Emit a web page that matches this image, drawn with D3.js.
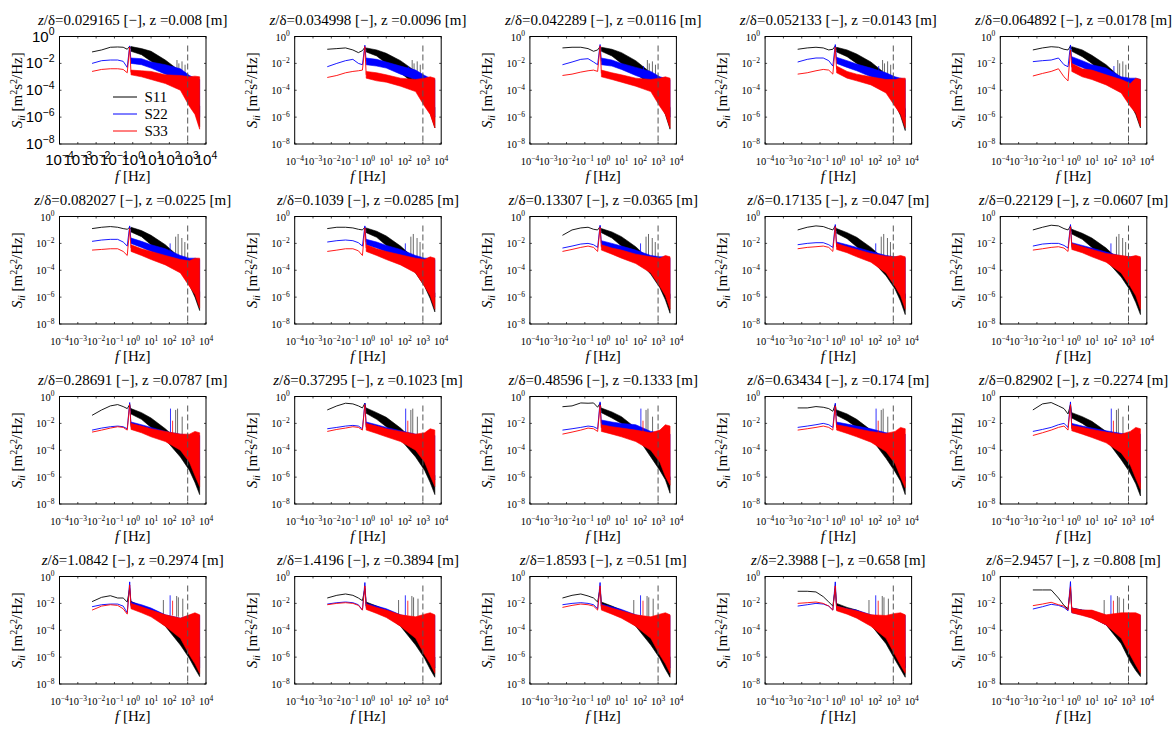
<!DOCTYPE html>
<html><head><meta charset="utf-8">
<script src="https://cdn.jsdelivr.net/npm/d3@7"></script>
<style>body{margin:0;background:#fff}svg{display:block}</style>
</head><body><svg id="c" width="1175" height="748"></svg>
<script>
// ---------- data ----------
const zDelta = ["0.029165","0.034998","0.042289","0.052133","0.064892",
  "0.082027","0.1039","0.13307","0.17135","0.22129",
  "0.28691","0.37295","0.48596","0.63434","0.82902",
  "1.0842","1.4196","1.8593","2.3988","2.9457"];
const zVal = ["0.008","0.0096","0.0116","0.0143","0.0178",
  "0.0225","0.0285","0.0365","0.047","0.0607",
  "0.0787","0.1023","0.1333","0.174","0.2274",
  "0.2974","0.3894","0.51","0.658","0.808"];
const seriesNames = ["S11","S22","S33"];
const seriesColors = ["#000000","#0000ff","#ff0000"];
const xTickExps = [-4,-3,-2,-1,0,1,2,3,4];
const yTickExps = [0,-2,-4,-6,-8];
const dashedF = 1000;
// frequency grids [Hz]
const lowF = [0.006,0.02,0.06,0.15,0.3,0.5];
const spikeF = 0.68;
const bandF = [0.8,3,10,60,400,1250,2500,4500];

// values are log10 of S_ii [m^2 s^-2 / Hz]
const s11Low = [
 [-1.15,-1.0,-0.8,-0.78,-0.8,-0.95],[-0.95,-0.9,-0.85,-1.0,-1.2,-1.05],[-0.85,-0.8,-0.8,-0.9,-1.1,-1.0],[-0.95,-0.85,-0.8,-0.85,-1.0,-0.95],[-1.0,-0.85,-0.76,-0.8,-0.95,-1.0],
 [-0.9,-0.8,-0.75,-0.8,-0.9,-0.95],[-0.9,-0.8,-0.8,-0.85,-0.95,-1.0],[-1.4,-1.0,-0.85,-0.8,-0.95,-1.0],[-1.0,-0.8,-0.7,-0.75,-0.9,-1.0],[-1.0,-0.8,-0.65,-0.7,-0.9,-1.0],
 [-1.4,-1.0,-0.7,-0.6,-0.75,-0.9],[-1.0,-0.7,-0.5,-0.55,-0.7,-0.85],[-0.76,-0.7,-0.48,-0.5,-0.48,-0.8],[-0.85,-0.85,-0.75,-0.8,-0.9,-1.1],[-1.0,-0.55,-0.45,-0.7,-0.9,-1.3],
 [-1.87,-1.55,-1.43,-1.6,-1.6,-1.9],[-1.6,-1.4,-1.3,-1.4,-1.6,-1.8],[-1.6,-1.4,-1.3,-1.45,-1.6,-1.9],[-1.1,-1.1,-1.15,-1.5,-1.9,-2.2],[-1.0,-1.0,-1.0,-1.6,-2.15,-2.4]];
const s11Spike = [-0.72,-0.8,-0.75,-0.7,-0.7, -0.8,-0.8,-0.75,-0.7,-0.7, -0.6,-0.5,-0.5,-0.6,-0.6, -0.9,-0.9,-0.9,-0.9,-0.9];
const s11Top = [
 [-0.75,-0.9,-1.1,-1.75,-2.6,-3.4,-4.3,-5.2],[-0.85,-1.0,-1.25,-1.8,-2.6,-3.5,-4.4,-5.3],[-0.8,-0.95,-1.2,-1.8,-2.7,-3.5,-4.4,-5.3],[-0.8,-1.0,-1.3,-1.9,-2.8,-3.6,-4.5,-5.4],[-0.76,-1.0,-1.4,-2.1,-3.1,-3.9,-4.7,-5.5],
 [-0.8,-1.05,-1.4,-2.1,-3.1,-4.0,-4.8,-5.6],[-0.85,-1.1,-1.45,-2.2,-3.2,-4.1,-4.9,-5.7],[-0.9,-1.15,-1.5,-2.25,-3.3,-4.2,-5.0,-5.8],[-0.9,-1.2,-1.55,-2.3,-3.3,-4.2,-5.0,-5.8],[-0.95,-1.25,-1.6,-2.35,-3.4,-4.3,-5.1,-5.9],
 [-0.9,-1.2,-1.6,-2.4,-3.4,-4.3,-5.1,-5.9],[-0.85,-1.2,-1.55,-2.35,-3.4,-4.3,-5.1,-5.9],[-0.86,-1.15,-1.5,-2.35,-3.5,-4.5,-5.3,-6.0],[-1.0,-1.3,-1.7,-2.5,-3.6,-4.5,-5.3,-6.0],[-1.2,-1.5,-1.85,-2.6,-3.7,-4.6,-5.4,-6.1],
 [-1.85,-2.2,-2.5,-3.1,-3.9,-4.7,-5.4,-6.0],[-1.9,-2.2,-2.5,-3.1,-3.9,-4.7,-5.4,-6.0],[-1.9,-2.2,-2.5,-3.1,-3.9,-4.7,-5.4,-6.0],[-2.0,-2.3,-2.5,-3.0,-3.9,-4.7,-5.4,-6.0],[-2.35,-2.5,-2.6,-3.0,-3.9,-4.7,-5.4,-6.0]];
const s11Bot = [
 [-1.1,-1.35,-1.85,-2.6,-3.6,-4.7,-5.6,-6.7],[-1.15,-1.45,-2.0,-2.7,-3.6,-4.8,-5.7,-6.8],[-1.1,-1.45,-2.0,-2.7,-3.7,-4.9,-5.8,-6.9],[-1.15,-1.5,-2.0,-2.8,-3.8,-5.0,-5.9,-7.0],[-1.1,-1.5,-2.0,-3.1,-4.0,-5.0,-5.8,-6.8],
 [-1.15,-1.5,-2.1,-3.0,-4.1,-5.1,-6.0,-7.0],[-1.2,-1.55,-2.15,-3.1,-4.2,-5.2,-6.1,-7.1],[-1.2,-1.6,-2.2,-3.1,-4.3,-5.3,-6.2,-7.2],[-1.25,-1.65,-2.25,-3.2,-4.4,-5.4,-6.3,-7.3],[-1.3,-1.7,-2.3,-3.25,-4.5,-5.5,-6.4,-7.3],
 [-1.3,-1.7,-2.3,-3.2,-4.5,-5.5,-6.4,-7.3],[-1.25,-1.7,-2.25,-3.2,-4.5,-5.5,-6.4,-7.3],[-1.2,-1.6,-2.0,-2.85,-4.5,-5.5,-6.2,-7.2],[-1.4,-1.8,-2.3,-3.1,-4.6,-5.6,-6.3,-7.3],[-1.6,-2.0,-2.5,-3.2,-4.7,-5.7,-6.5,-7.4],
 [-2.1,-2.5,-2.85,-3.7,-5.1,-6.1,-6.85,-7.45],[-2.2,-2.5,-2.9,-3.7,-5.1,-6.1,-6.9,-7.5],[-2.2,-2.55,-2.9,-3.7,-5.1,-6.1,-6.9,-7.5],[-2.3,-2.6,-2.9,-3.6,-5.0,-6.2,-6.9,-7.5],[-2.6,-2.8,-3.0,-3.6,-5.0,-6.35,-7.0,-7.45]];

const s22Low = [
 [-2.0,-1.8,-1.75,-1.75,-1.85,-2.3],[-2.25,-2.0,-1.8,-1.7,-2.0,-2.1],[-2.1,-1.9,-1.7,-1.65,-1.9,-2.1],[-1.9,-1.7,-1.6,-1.6,-1.8,-2.2],[-1.87,-1.8,-1.75,-1.6,-2.1,-2.25],
 [-1.85,-1.75,-1.7,-1.7,-1.9,-2.2],[-1.9,-1.8,-1.75,-1.8,-1.95,-2.2],[-2.35,-2.2,-2.05,-2.0,-2.1,-2.3],[-2.1,-2.0,-1.95,-1.95,-2.1,-2.3],[-2.2,-2.05,-2.0,-2.0,-2.15,-2.35],
 [-2.5,-2.35,-2.25,-2.2,-2.25,-2.4],[-2.4,-2.3,-2.2,-2.15,-2.2,-2.4],[-2.5,-2.4,-2.3,-2.2,-2.25,-2.4],[-2.3,-2.2,-2.1,-2.0,-2.1,-2.3],[-2.6,-2.45,-2.3,-2.1,-2.0,-2.3],
 [-2.25,-2.1,-2.05,-2.05,-2.2,-2.7],[-2.05,-1.95,-1.9,-1.95,-2.1,-2.5],[-2.1,-2.0,-1.95,-2.0,-2.1,-2.4],[-2.2,-2.1,-2.0,-2.05,-2.2,-2.5],[-2.42,-2.25,-2.07,-2.15,-2.3,-2.55]];
const s22Spike = [-0.7,-0.65,-0.6,-0.6,-0.63, -0.7,-0.7,-0.65,-0.6,-0.6, -0.45,-0.5,-0.4,-0.5,-0.4, -0.4,-0.45,-0.45,-0.4,-0.38];
const s22Top = [
 [-1.6,-1.65,-1.9,-2.1,-2.4,-2.9,-3.1,-3.2],[-1.6,-1.7,-1.9,-2.2,-2.5,-2.9,-3.1,-3.2],[-1.6,-1.75,-2.0,-2.3,-2.6,-3.0,-3.1,-3.2],[-1.55,-1.8,-2.05,-2.35,-2.7,-3.0,-3.1,-3.2],[-1.5,-1.8,-2.1,-2.35,-3.0,-3.1,-3.1,-3.2],
 [-1.6,-1.85,-2.1,-2.4,-2.9,-3.1,-3.1,-3.2],[-1.7,-1.9,-2.15,-2.45,-2.9,-3.1,-3.1,-3.2],[-1.8,-2.0,-2.2,-2.5,-2.9,-3.0,-3.0,-3.1],[-1.9,-2.1,-2.3,-2.6,-2.9,-3.0,-3.0,-3.1],[-1.95,-2.15,-2.35,-2.65,-2.95,-3.0,-3.0,-3.1],
 [-1.9,-2.1,-2.3,-2.6,-2.8,-2.9,-2.8,-2.9],[-1.9,-2.1,-2.3,-2.55,-2.8,-2.9,-2.8,-2.9],[-1.75,-1.9,-2.0,-2.1,-2.6,-2.7,-2.7,-2.8],[-1.9,-2.05,-2.2,-2.4,-2.7,-2.8,-2.7,-2.8],[-2.0,-2.2,-2.35,-2.55,-2.75,-2.8,-2.7,-2.8],
 [-1.9,-2.1,-2.35,-2.85,-3.1,-2.9,-2.8,-2.9],[-2.0,-2.2,-2.4,-2.85,-3.1,-2.9,-2.8,-2.9],[-2.05,-2.25,-2.45,-2.85,-3.1,-2.9,-2.8,-2.9],[-2.2,-2.4,-2.5,-2.85,-3.1,-2.9,-2.8,-2.9],[-2.35,-2.5,-2.55,-2.9,-3.1,-2.9,-2.8,-2.9]];
const s22Bot = [
 [-2.0,-2.1,-2.35,-2.8,-3.2,-3.9,-4.8,-6.0],[-2.1,-2.2,-2.35,-2.8,-3.2,-3.9,-4.8,-6.0],[-2.1,-2.2,-2.45,-2.9,-3.3,-4.0,-4.8,-6.0],[-2.0,-2.3,-2.55,-3.0,-3.4,-4.0,-4.8,-6.0],[-2.0,-2.3,-2.65,-3.1,-3.5,-4.1,-4.9,-6.0],
 [-2.0,-2.3,-2.6,-3.0,-3.5,-4.1,-4.9,-6.0],[-2.1,-2.35,-2.65,-3.0,-3.5,-4.1,-4.9,-6.0],[-2.2,-2.4,-2.7,-3.1,-3.6,-4.2,-5.0,-6.1],[-2.25,-2.5,-2.75,-3.1,-3.6,-4.2,-5.0,-6.1],[-2.3,-2.55,-2.8,-3.2,-3.7,-4.3,-5.0,-6.1],
 [-2.3,-2.5,-2.75,-3.1,-3.7,-4.4,-5.2,-6.2],[-2.3,-2.5,-2.75,-3.1,-3.7,-4.4,-5.2,-6.2],[-2.25,-2.4,-2.6,-2.85,-3.7,-4.4,-5.2,-6.2],[-2.3,-2.5,-2.7,-3.0,-3.8,-4.5,-5.3,-6.3],[-2.4,-2.6,-2.8,-3.1,-3.9,-4.6,-5.4,-6.4],
 [-2.3,-2.55,-2.85,-3.4,-4.2,-5.0,-5.8,-6.8],[-2.35,-2.6,-2.9,-3.4,-4.2,-5.0,-5.8,-6.8],[-2.4,-2.65,-2.9,-3.4,-4.2,-5.0,-5.8,-6.8],[-2.5,-2.7,-2.95,-3.5,-4.3,-5.0,-5.8,-6.8],[-2.7,-2.85,-3.05,-3.6,-4.4,-5.1,-5.9,-6.9]];

const s33Low = [
 [-2.6,-2.45,-2.4,-2.4,-2.45,-2.7],[-3.05,-2.9,-2.7,-2.6,-2.55,-2.5],[-2.9,-2.8,-2.65,-2.55,-2.5,-2.6],[-2.8,-2.7,-2.55,-2.45,-2.5,-2.8],[-2.94,-2.75,-2.6,-2.4,-3.0,-3.3],
 [-2.5,-2.45,-2.4,-2.4,-2.6,-2.9],[-2.6,-2.5,-2.4,-2.4,-2.55,-2.9],[-2.6,-2.45,-2.3,-2.2,-2.3,-2.6],[-2.4,-2.3,-2.25,-2.2,-2.3,-2.6],[-2.5,-2.4,-2.3,-2.25,-2.35,-2.6],
 [-2.65,-2.5,-2.35,-2.25,-2.3,-2.5],[-2.6,-2.45,-2.35,-2.25,-2.3,-2.5],[-2.8,-2.65,-2.5,-2.35,-2.4,-2.6],[-2.5,-2.4,-2.3,-2.2,-2.3,-2.5],[-2.9,-2.7,-2.5,-2.3,-2.2,-2.5],
 [-2.5,-2.2,-2.1,-2.15,-2.4,-2.8],[-2.1,-2.0,-1.95,-2.0,-2.15,-2.5],[-2.3,-2.15,-2.05,-2.1,-2.2,-2.5],[-2.0,-1.95,-1.9,-2.0,-2.2,-2.5],[-2.17,-2.05,-1.92,-2.1,-2.2,-2.5]];
const s33Spike = [-0.8,-0.75,-0.7,-0.8,-1.0, -0.9,-0.85,-0.8,-0.75,-0.75, -0.6,-0.6,-0.63,-0.7,-0.6, -0.63,-0.7,-0.7,-0.7,-0.76];
const s33Top = [
 [-2.5,-2.55,-2.6,-2.85,-2.9,-3.0,-2.95,-3.0],[-2.6,-2.7,-2.85,-3.1,-3.2,-3.1,-3.0,-3.1],[-2.5,-2.7,-2.85,-3.1,-3.2,-3.1,-3.0,-3.1],[-2.2,-2.6,-2.8,-3.0,-3.2,-3.2,-3.1,-3.1],[-2.0,-2.4,-2.5,-2.85,-3.2,-3.5,-3.1,-3.2],
 [-2.1,-2.4,-2.6,-2.9,-3.2,-3.3,-3.1,-3.1],[-2.1,-2.4,-2.6,-2.85,-3.1,-3.2,-3.0,-3.1],[-2.1,-2.35,-2.5,-2.8,-3.0,-3.1,-2.9,-3.0],[-2.0,-2.25,-2.45,-2.75,-2.95,-3.0,-2.9,-3.0],[-2.0,-2.25,-2.45,-2.75,-2.9,-3.0,-2.9,-3.0],
 [-2.0,-2.2,-2.4,-2.6,-2.8,-2.8,-2.6,-2.7],[-2.0,-2.2,-2.4,-2.6,-2.8,-2.7,-2.4,-2.5],[-2.1,-2.25,-2.35,-2.5,-2.7,-2.5,-2.1,-2.2],[-2.1,-2.25,-2.4,-2.6,-2.75,-2.6,-2.3,-2.4],[-2.15,-2.3,-2.45,-2.65,-2.8,-2.6,-2.3,-2.4],
 [-2.0,-2.25,-2.5,-2.85,-3.1,-2.85,-2.7,-2.85],[-2.05,-2.3,-2.5,-2.85,-3.0,-2.8,-2.7,-2.85],[-2.1,-2.35,-2.55,-2.85,-3.0,-2.8,-2.7,-2.85],[-2.2,-2.4,-2.55,-2.85,-2.9,-2.75,-2.7,-2.85],[-2.35,-2.5,-2.5,-2.85,-2.7,-2.7,-2.7,-2.85]];
const s33Bot = [
 [-2.85,-3.0,-3.2,-3.5,-4.0,-5.2,-5.8,-6.9],[-3.1,-3.3,-3.4,-3.7,-4.1,-5.2,-5.8,-6.8],[-3.0,-3.2,-3.4,-3.7,-4.1,-5.2,-5.8,-6.8],[-2.7,-3.1,-3.3,-3.6,-4.2,-5.2,-5.8,-6.8],[-2.6,-3.0,-3.2,-3.6,-4.2,-5.2,-5.7,-6.7],
 [-2.6,-2.9,-3.2,-3.6,-4.2,-5.2,-5.8,-6.8],[-2.6,-2.9,-3.2,-3.6,-4.2,-5.2,-5.9,-6.9],[-2.5,-2.8,-3.1,-3.5,-4.2,-5.2,-5.9,-6.9],[-2.45,-2.7,-3.0,-3.4,-4.2,-5.2,-5.9,-6.9],[-2.45,-2.7,-3.0,-3.4,-4.2,-5.2,-5.9,-6.9],
 [-2.45,-2.7,-3.0,-3.35,-4.0,-4.9,-5.9,-6.7],[-2.5,-2.75,-3.0,-3.35,-4.0,-4.9,-5.9,-6.7],[-2.6,-2.8,-3.0,-3.35,-4.0,-4.9,-5.95,-6.6],[-2.5,-2.75,-3.0,-3.4,-4.1,-5.0,-6.0,-6.8],[-2.55,-2.8,-3.05,-3.45,-4.2,-5.1,-6.1,-6.9],
 [-2.4,-2.7,-3.0,-3.7,-4.6,-5.85,-6.5,-7.2],[-2.45,-2.75,-3.05,-3.7,-4.6,-5.85,-6.5,-7.2],[-2.5,-2.8,-3.1,-3.7,-4.6,-5.85,-6.5,-7.2],[-2.55,-2.8,-3.1,-3.7,-4.6,-5.85,-6.6,-7.2],[-2.7,-2.9,-3.1,-3.6,-4.6,-5.85,-6.6,-7.2]];

// narrow spectral peaks per row of panels: [f Hz, log10 top, log10 base]
const spikes11 = [
 [[260,-1.75,-3.2],[330,-2.0,-3.2],[490,-1.85,-3.3],[720,-2.1,-3.4]],
 [[220,-1.5,-3.1],[300,-1.3,-3.1],[480,-1.6,-3.2],[700,-1.9,-3.3]],
 [[220,-1.0,-3.0],[280,-0.9,-3.0],[500,-1.5,-3.2]],
 [[47,-1.75,-3.2],[250,-1.45,-3.0],[310,-1.55,-3.0],[540,-1.65,-3.0]]];
const spikes22 = [ [[160,-2.2,-2.8]], [[110,-2.0,-2.9]], [[115,-0.9,-2.7]], [[110,-1.4,-2.9]] ];
const spikes33 = [ [], [], [[150,-1.8,-2.8]], [[150,-1.8,-2.9]] ];

// ---------- layout ----------
const colLeft0 = 59.5, colStep = 235.2, rowTop0 = 36.5, rowStep = 180;
const pw = 146.5, ph = 107.5;
const serif = "'Liberation Serif','Times New Roman',serif";
const sans = "'Liberation Sans',Arial,sans-serif";

const svg = d3.select("#c");
const x = d3.scaleLog().domain([1e-4, 1e4]).range([0, pw]);
const y = d3.scaleLog().domain([1e-8, 1]).range([ph, 0]);
const P = v => Math.pow(10, v);

const lows = [s11Low, s22Low, s33Low], spk = [s11Spike, s22Spike, s33Spike],
      tops = [s11Top, s22Top, s33Top], bots = [s11Bot, s22Bot, s33Bot],
      spikeSets = [spikes11, spikes22, spikes33];

function supText(t, exp, fs, sfs) {
  t.append("tspan").text("10");
  t.append("tspan").attr("font-size", sfs).attr("dy", -fs * 0.42).text(exp);
}

zDelta.forEach((zd, i) => {
  const r = Math.floor(i / 5), c = i % 5;
  const first = i === 0;
  const g = svg.append("g").attr("transform", `translate(${colLeft0 + c * colStep},${rowTop0 + r * rowStep})`);
  const clipId = "clip" + i;
  g.append("clipPath").attr("id", clipId).append("rect").attr("width", pw).attr("height", ph);
  const plot = g.append("g").attr("clip-path", `url(#${clipId})`);

  [0, 1, 2].forEach(s => {
    const col = seriesColors[s];
    // band (dense noisy part)
    const band = bandF.map((f, k) => ({ f, t: tops[s][i][k], b: bots[s][i][k] }));
    plot.append("path").datum(band)
      .attr("d", d3.area().x(d => x(d.f)).y0(d => y(P(d.b))).y1(d => y(P(d.t))))
      .attr("fill", col).attr("stroke", col).attr("stroke-width", 0.6);
    // low-frequency line + peak
    const pts = lowF.map((f, k) => [f, lows[s][i][k]]);
    pts.push([spikeF, spk[s][i]]);
    pts.push([bandF[0], (tops[s][i][0] + bots[s][i][0]) / 2]);
    plot.append("path").datum(pts)
      .attr("d", d3.line().x(d => x(d[0])).y(d => y(P(d[1]))))
      .attr("fill", "none").attr("stroke", col).attr("stroke-width", 0.9);
    // narrow harmonic peaks
    spikeSets[s][r].forEach(sp => {
      plot.append("line").attr("x1", x(sp[0])).attr("x2", x(sp[0]))
        .attr("y1", y(P(sp[2]))).attr("y2", y(P(sp[1])))
        .attr("stroke", s === 0 ? "#444" : col).attr("stroke-width", 0.8);
    });
  });

  // dashed reference line
  g.append("line").attr("x1", x(dashedF)).attr("x2", x(dashedF))
    .attr("y1", 9).attr("y2", ph)
    .attr("stroke", "#555").attr("stroke-width", 1).attr("stroke-dasharray", "6,3");

  // box + ticks
  g.append("rect").attr("width", pw).attr("height", ph).attr("fill", "none").attr("stroke", "#000").attr("stroke-width", 1);
  xTickExps.forEach(e => {
    const xx = x(P(e));
    g.append("line").attr("x1", xx).attr("x2", xx).attr("y1", ph).attr("y2", ph - 2).attr("stroke", "#000").attr("stroke-width", 0.7);
    g.append("line").attr("x1", xx).attr("x2", xx).attr("y1", 0).attr("y2", 2).attr("stroke", "#000").attr("stroke-width", 0.7);
    const t = g.append("text").attr("x", xx).attr("y", ph + (first ? 21 : 21))
      .attr("text-anchor", "middle").attr("font-family", first ? sans : serif)
      .attr("font-size", first ? 15 : 10.5).attr("fill", "#000");
    supText(t, e < 0 ? "\u2212" + (-e) : "" + e, first ? 15 : 10.5, first ? 10.5 : 7.5);
  });
  yTickExps.forEach(e => {
    const yy = y(P(e));
    g.append("line").attr("x1", 0).attr("x2", 2).attr("y1", yy).attr("y2", yy).attr("stroke", "#000").attr("stroke-width", 0.7);
    g.append("line").attr("x1", pw).attr("x2", pw - 2).attr("y1", yy).attr("y2", yy).attr("stroke", "#000").attr("stroke-width", 0.7);
    const t = g.append("text").attr("x", first ? -5 : -5).attr("y", yy + (first ? 5 : 4))
      .attr("text-anchor", "end").attr("font-family", first ? sans : serif)
      .attr("font-size", first ? 15 : 10.5).attr("fill", "#000");
    supText(t, e < 0 ? "\u2212" + (-e) : "" + e, first ? 15 : 10.5, first ? 10.5 : 7.5);
  });

  // title
  const tt = g.append("text").attr("x", pw / 2).attr("y", -12).attr("text-anchor", "middle")
    .attr("font-family", serif).attr("font-size", 15).attr("fill", "#000");
  tt.append("tspan").attr("font-style", "italic").text("z");
  tt.append("tspan").text(`/\u03b4=${zd} [\u2212], z =${zVal[i]} [m]`);

  // x label
  const xl = g.append("text").attr("x", pw / 2).attr("y", ph + 37).attr("text-anchor", "middle")
    .attr("font-family", serif).attr("font-size", 15).attr("fill", "#000");
  xl.append("tspan").attr("font-style", "italic").text("f");
  xl.append("tspan").text("  [Hz]");

  // y label
  const yl = g.append("text").attr("transform", `translate(${-38},${ph / 2}) rotate(-90)`)
    .attr("text-anchor", "middle").attr("font-family", serif).attr("font-size", 15).attr("fill", "#000");
  yl.append("tspan").attr("font-style", "italic").text("S");
  yl.append("tspan").attr("font-style", "italic").attr("font-size", 10).attr("dy", 3).text("ii");
  yl.append("tspan").attr("dy", -3).text("  [m");
  yl.append("tspan").attr("font-size", 10).attr("dy", -5).text("2");
  yl.append("tspan").attr("dy", 5).text("s");
  yl.append("tspan").attr("font-size", 10).attr("dy", -5).text("2");
  yl.append("tspan").attr("dy", 5).text("/Hz]");

  // legend (first panel only)
  if (first) {
    const lg = g.append("g");
    seriesNames.forEach((n, k) => {
      const ly = 60.5 + k * 17;
      lg.append("line").attr("x1", 53.5).attr("x2", 77.5).attr("y1", ly).attr("y2", ly)
        .attr("stroke", seriesColors[k]).attr("stroke-width", 1);
      lg.append("text").attr("x", 85).attr("y", ly + 5).attr("font-family", serif)
        .attr("font-size", 15).attr("fill", "#000").text(n);
    });
  }
});
</script></body></html>
